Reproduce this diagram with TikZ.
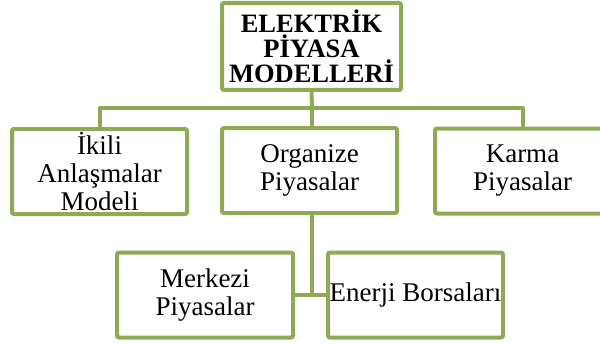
\documentclass[tikz,border=0pt]{standalone}
\usepackage{fontspec}
\setmainfont{Liberation Serif}
\usetikzlibrary{backgrounds}
\definecolor{olivegreen}{RGB}{142,170,84}
\begin{document}
\begin{tikzpicture}[x=1pt,y=-1pt,
  box/.style={draw=olivegreen, line width=4pt, rounded corners=2pt, fill=white,
    align=center, inner sep=0pt, minimum width=175, minimum height=85,
    font=\fontsize{27}{28}\selectfont},
  titlebox/.style={box, minimum width=179, minimum height=87,
    font=\fontsize{26.5}{25}\selectfont\bfseries},
  link/.style={draw=olivegreen, line width=4pt, line join=round}]
\useasboundingbox (0,0) rectangle (600,345);
\clip (0,0) rectangle (600,345);
\coordinate (bus) at (312,108);
\coordinate (mid) at (312,295);
\node[titlebox] (top) at (311.5,46.5) {ELEKTRİK\\PİYASA\\MODELLERİ};
\node[box] (ikili) at (99.5,171.5) {İkili\\Anlaşmalar\\Modeli};
\node[box] (org) at (309.5,170.5) {Organize\\Piyasalar};
\node[box] (karma) at (522.5,171) {Karma\\Piyasalar};
\node[box, minimum width=176] (merk) at (205,295) {Merkezi\\Piyasalar};
\node[box] (enerji) at (415.5,295) {Enerji Borsaları};
\begin{scope}[on background layer]
\path[link] (ikili.north) |- (bus) -| (karma.north);
\path[link] (top.south) -- (bus);
\path[link] (bus) -- (bus |- org.north);
\path[link] (org.south -| mid) -- (mid);
\path[link] (merk.east) -- (enerji.west);
\end{scope}
\end{tikzpicture}
\end{document}
